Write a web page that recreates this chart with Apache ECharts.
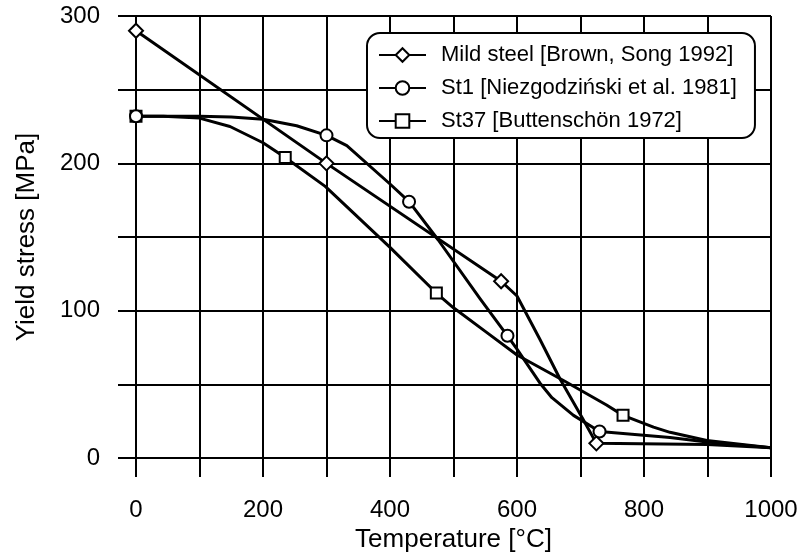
<!DOCTYPE html>
<html><head><meta charset="utf-8">
<script src="https://cdn.jsdelivr.net/npm/echarts@6/dist/echarts.min.js"></script>
<style>html,body{margin:0;padding:0;background:#fff}#c{width:801px;height:558px}</style>
</head><body><div id="c"></div>
<script>
// Series names (legend order)
const seriesNames = ['Mild steel [Brown, Song 1992]', 'St1 [Niezgodziński et al. 1981]', 'St37 [Buttenschön 1972]'];
const symbols = ['diamond', 'circle', 'rect'];

// Measured points (drawn with markers)
const mildT = [0, 300, 575, 725];
const mildS = [290, 200, 120, 10];
const st1T = [0, 300, 430, 585, 730];
const st1S = [232, 219, 174, 83, 18];
const st37T = [0, 235, 473, 767];
const st37S = [232, 204, 112, 29];

// Points (no markers)
const mildCurveT = [600, 636, 668, 704, 900, 1000];
const mildCurveS = [110, 80.6, 53.5, 26.4, 9.3, 7];
const st1CurveT = [50, 100, 150, 200, 253, 332, 400, 476, 542, 600, 636, 655, 689, 841, 899, 1000];
const st1CurveS = [232, 232, 231.5, 230, 225.5, 212, 186, 148, 108, 74, 51, 41, 29, 14, 11, 7];
const st37CurveT = [43, 100, 148, 200, 298, 400, 500, 550, 600, 676, 741, 815, 841, 899, 1000];
const st37CurveS = [232, 230.7, 225, 214, 184.4, 143, 102, 86, 70, 52, 36, 21, 17.5, 12, 7];

// Axis ticks
const xLabelTicks = [0, 200, 400, 600, 800, 1000];
const yLabelTicks = [0, 100, 200, 300];

function build(mt, ms, ct, cs) {
  const pts = [];
  mt.forEach((t, i) => pts.push({ value: [t, ms[i]] }));
  ct.forEach((t, i) => pts.push({ value: [t, cs[i]], symbol: 'none' }));
  pts.sort((a, b) => a.value[0] - b.value[0]);
  return pts;
}
const datasets = [
  build(mildT, mildS, mildCurveT, mildCurveS),
  build(st1T, st1S, st1CurveT, st1CurveS),
  build(st37T, st37S, st37CurveT, st37CurveS)
];
const symSizes = [14, 12, 11];
const FONT = 'Liberation Sans, Arial, sans-serif';

const series = [0, 2, 1].map(i => ({
  name: seriesNames[i],
  type: 'line',
  data: datasets[i],
  smooth: false,
  symbol: symbols[i],
  symbolSize: symSizes[i],
  showAllSymbol: true,
  lineStyle: { color: '#000', width: 3, join: 'round' },
  itemStyle: { color: '#fff', borderColor: '#000', borderWidth: 2 },
  emphasis: { disabled: true },
  z: 3
}));

const chart = echarts.init(document.getElementById('c'), null, { renderer: 'canvas' });
chart.setOption({
  animation: false,
  backgroundColor: '#fff',
  textStyle: { fontFamily: FONT },
  grid: { left: 136, right: 30, top: 16, bottom: 99 },
  legend: {
    data: seriesNames,
    orient: 'vertical',
    left: 367, top: 33,
    backgroundColor: '#fff',
    borderColor: '#000',
    borderWidth: 2,
    borderRadius: 13,
    padding: [11, 18, 6, 11],
    itemWidth: 47,
    itemHeight: 17,
    itemGap: 11,
    textStyle: { fontFamily: FONT, fontSize: 22, color: '#000', padding: [0, 0, 0, 10] }
  },
  xAxis: {
    type: 'value', min: 0, max: 1000, interval: 100,
    name: 'Temperature [°C]', nameLocation: 'middle', nameGap: 68,
    nameTextStyle: { fontFamily: FONT, fontSize: 26, color: '#000' },
    axisLine: { show: true, lineStyle: { color: '#000', width: 2 } },
    axisTick: { show: true, inside: false, length: 19, lineStyle: { color: '#000', width: 2 } },
    axisLabel: { color: '#000', fontSize: 24, fontFamily: FONT, margin: 40,
      formatter: v => xLabelTicks.includes(v) ? String(v) : '' },
    splitLine: { show: true, lineStyle: { color: '#000', width: 2 } }
  },
  yAxis: {
    type: 'value', min: 0, max: 300, interval: 50,
    name: 'Yield stress [MPa]', nameLocation: 'middle', nameGap: 96,
    nameTextStyle: { fontFamily: FONT, fontSize: 26, color: '#000' },
    axisLine: { show: true, lineStyle: { color: '#000', width: 2 } },
    axisTick: { show: true, inside: false, length: 18, lineStyle: { color: '#000', width: 2 } },
    axisLabel: { color: '#000', fontSize: 24, fontFamily: FONT, margin: 36,
      formatter: v => yLabelTicks.includes(v) ? String(v) : '' },
    splitLine: { show: true, lineStyle: { color: '#000', width: 2 } }
  },
  series: series
});
</script>
</body></html>
